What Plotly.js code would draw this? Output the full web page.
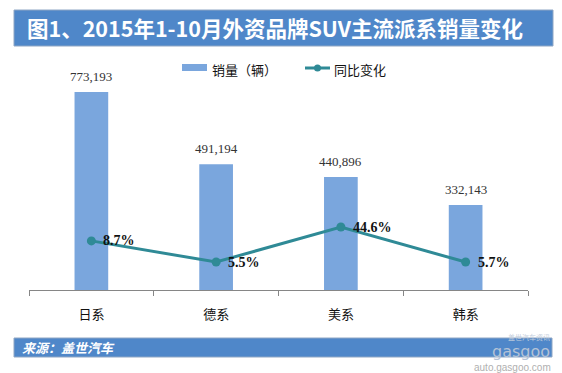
<!DOCTYPE html>
<html>
<head>
<meta charset="utf-8">
<script src="https://cdn.plot.ly/plotly-3.0.1.min.js"></script>
<style>
html,body{margin:0;padding:0;background:#fff;}
#chart{width:562px;height:373px;}
</style>
</head>
<body>
<div id="chart"></div>
<script>
// ---- data ----
const categories = ['日系', '德系', '美系', '韩系'];
const salesValues = [773193, 491194, 440896, 332143];
const yoyLabels = ['8.7%', '5.5%', '44.6%', '5.7%'];
// line point heights (secondary axis, 0-100 scale)
const yoyPlotted = [20.9, 11.9, 26.8, 11.9];
const titleText = '图1、2015年1-10月外资品牌SUV主流派系销量变化';
const sourceText = '来源：盖世汽车';
const legendNames = ['销量（辆）', '同比变化'];

// ---- layout geometry (pixels) ----
const W = 562, Hh = 373;
const L = 29, R = 528, T = 55, B = 290;
const PW = R - L, PH = B - T;
const px = v => (v - L) / PW;
const py = v => (B - v) / PH;

const barColor = '#7aa6dd';
const lineColor = '#2f8a96';
const bannerColor = '#4f87c9';

const fmt = v => v.toLocaleString('en-US');

const bars = {
  type: 'bar', x: categories, y: salesValues, width: 0.27,
  marker: {color: barColor}, name: legendNames[0], hoverinfo: 'none'
};
const line = {
  type: 'scatter', mode: 'lines+markers', x: categories, y: yoyPlotted, yaxis: 'y2',
  line: {color: lineColor, width: 3}, marker: {color: lineColor, size: 9},
  name: legendNames[1], hoverinfo: 'none'
};

const annotations = [];
categories.forEach((c, i) => {
  annotations.push({
    x: c, y: salesValues[i], xref: 'x', yref: 'y', text: fmt(salesValues[i]),
    showarrow: false, yanchor: 'bottom', yshift: 6,
    font: {family: 'Liberation Serif, serif', size: 13, color: '#333'}
  });
  annotations.push({
    x: c, y: yoyPlotted[i], xref: 'x', yref: 'y2', text: yoyLabels[i],
    showarrow: false, xanchor: 'left', yanchor: 'middle', xshift: 10, yshift: 0,
    font: {family: 'Liberation Serif, serif', size: 14, color: '#111', weight: 'bold'}
  });
});
// title
annotations.push({
  xref: 'paper', yref: 'paper', x: px(25), y: py(28), xanchor: 'left', yanchor: 'middle',
  text: '<b>' + titleText + '</b>', showarrow: false,
  font: {family: 'Noto Sans CJK SC, sans-serif', size: 21.5, color: '#ffffff'}
});
// source
annotations.push({
  xref: 'paper', yref: 'paper', x: px(20), y: py(347.5), xanchor: 'left', yanchor: 'middle',
  text: '<b><i>' + sourceText + '</i></b>', showarrow: false,
  font: {family: 'Noto Sans CJK SC, sans-serif', size: 13, color: '#ffffff'}
});
// legend texts
annotations.push({
  xref: 'paper', yref: 'paper', x: px(210), y: py(69), xanchor: 'left', yanchor: 'middle',
  text: legendNames[0], showarrow: false,
  font: {family: 'Noto Sans CJK SC, sans-serif', size: 13, color: '#111'}
});
annotations.push({
  xref: 'paper', yref: 'paper', x: px(332), y: py(69), xanchor: 'left', yanchor: 'middle',
  text: legendNames[1], showarrow: false,
  font: {family: 'Noto Sans CJK SC, sans-serif', size: 13, color: '#111'}
});
// logo
annotations.push({
  xref: 'paper', yref: 'paper', x: px(552), y: py(336.5), xanchor: 'right', yanchor: 'middle',
  text: '盖世汽车资讯', showarrow: false,
  font: {family: 'Noto Sans CJK SC, sans-serif', size: 7, color: '#c4cedc'}
});
annotations.push({
  xref: 'paper', yref: 'paper', x: px(552), y: py(351), xanchor: 'right', yanchor: 'middle',
  text: 'gasgoo', showarrow: false,
  font: {family: 'DejaVu Sans, sans-serif', size: 16, color: '#b4c2d6'}
});
annotations.push({
  xref: 'paper', yref: 'paper', x: px(553), y: py(367), xanchor: 'right', yanchor: 'middle',
  text: 'auto.gasgoo.com', showarrow: false,
  font: {family: 'Liberation Sans, sans-serif', size: 10, color: '#b0b0b0'}
});

const shapes = [
  {type: 'rect', xref: 'paper', yref: 'paper', x0: px(14), x1: px(553), y0: py(46), y1: py(10),
   fillcolor: bannerColor, line: {color: '#8fa6c4', width: 1}, layer: 'below'},
  {type: 'rect', xref: 'paper', yref: 'paper', x0: px(14), x1: px(552), y0: py(357), y1: py(338),
   fillcolor: bannerColor, line: {color: '#8fa6c4', width: 1}, layer: 'below'},
  // legend swatches
  {type: 'rect', xref: 'paper', yref: 'paper', x0: px(182), x1: px(207), y0: py(71), y1: py(64),
   fillcolor: barColor, line: {width: 0}},
  {type: 'line', xref: 'paper', yref: 'paper', x0: px(305), x1: px(330), y0: py(68), y1: py(68),
   line: {color: lineColor, width: 3}},
  {type: 'circle', xref: 'paper', yref: 'paper', x0: px(314), x1: px(321), y0: py(71.5), y1: py(64.5),
   fillcolor: lineColor, line: {width: 0}}
];

const layout = {
  width: W, height: Hh,
  margin: {l: L, r: W - R, t: T, b: Hh - B, pad: 0},
  paper_bgcolor: '#ffffff', plot_bgcolor: '#ffffff',
  showlegend: false,
  bargap: 0.73,
  xaxis: {
    type: 'category', showline: true, linecolor: '#868686', linewidth: 1,
    ticks: 'outside', tickson: 'boundaries', ticklen: 5, tickcolor: '#868686',
    showgrid: false, zeroline: false, fixedrange: true,
    ticklabelstandoff: 12,
    tickfont: {family: 'Noto Sans CJK SC, sans-serif', size: 13, color: '#111'}
  },
  yaxis: {visible: false, range: [0, PH / (198 / 773193)], showgrid: false, zeroline: false, fixedrange: true},
  yaxis2: {visible: false, overlaying: 'y', range: [0, 100], showgrid: false, zeroline: false, fixedrange: true},
  annotations: annotations,
  shapes: shapes
};

Plotly.newPlot('chart', [bars, line], layout, {staticPlot: true, displayModeBar: false});
</script>
</body>
</html>
